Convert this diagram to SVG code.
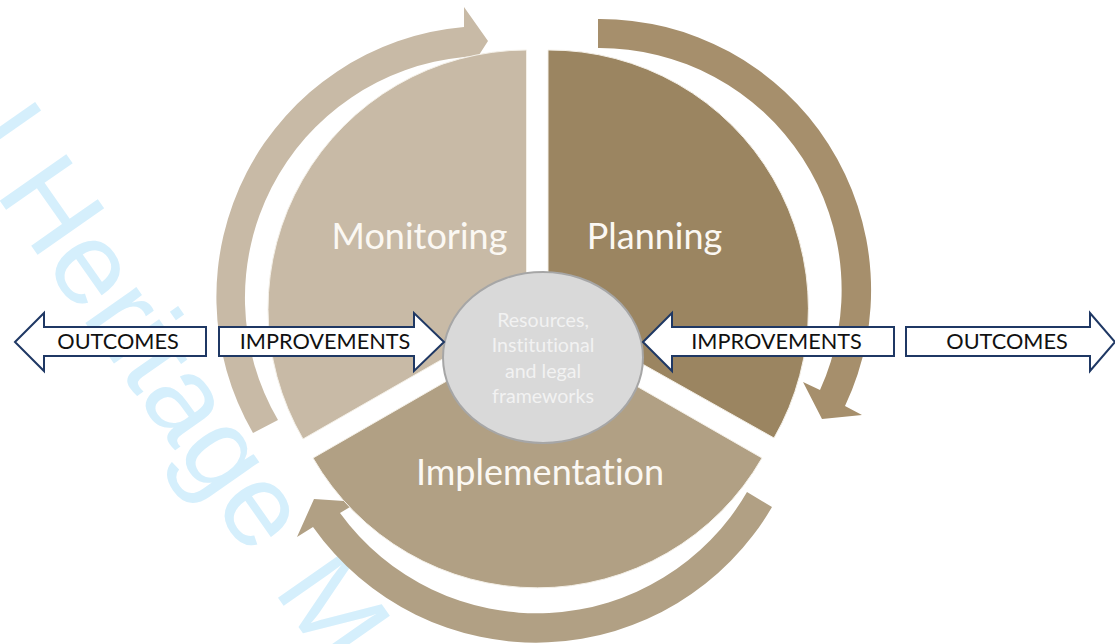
<svg xmlns="http://www.w3.org/2000/svg" width="1115" height="644" viewBox="0 0 1115 644">
<style>
text{font-variant-ligatures:none}
.wm{font-family:"Liberation Sans",Arial,sans-serif;font-size:118px;fill:#d5effc}
.wedge{stroke:#f4f0e8;stroke-width:1}
.big{font-family:Lato,"Open Sans",sans-serif;font-size:36px;fill:#fbf8f3;text-anchor:middle}
.core{font-family:Lato,"Open Sans",sans-serif;font-size:19.600px;fill:#f2f2f2;text-anchor:middle}
.block{fill:#fff;stroke:#1f3864;stroke-width:2}
.lbl{font-family:Lato,"Open Sans",sans-serif;font-size:21.700px;fill:#111;text-anchor:middle}
</style>
<rect width="1115" height="644" fill="#fff"/>
<text class="wm" transform="translate(-39.5 144.4) rotate(55)">l Heritage <tspan dx="6">M</tspan></text>
<g id="cycle-connectors">
<path fill="#c8baa6" d="M253 433A271 271 0 0 1 464 27L464 7L488 41L479 55L464 57A242 242 0 0 0 278 420Z"/>
<path fill="#a68f6c" d="M598 19A271 271 0 0 1 845 406L862 415L822 419L803 382L820 390A242 242 0 0 0 598 48Z"/>
<path fill="#b1a084" d="M772 507A273 273 0 0 1 313 527L297 537L314 499L344 501L350 507L340 513A243 243 0 0 0 747 492Z"/>
</g>
<g id="monitoring">
<path class="wedge" fill="#c8baa6" d="M526.500 50A259 259 0 0 0 303 439L526.500 311Z"/>
<text class="big" x="419.500" y="249">Monitoring</text>
</g>
<g id="planning">
<path class="wedge" fill="#9b8561" d="M548 50A259 259 0 0 1 774 438L548 311Z"/>
<text class="big" x="654.500" y="249">Planning</text>
</g>
<g id="implementation">
<path class="wedge" fill="#b1a084" d="M313 458L537 329L762 458A259 259 0 0 1 313 458Z"/>
<text class="big" x="540" y="485">Implementation</text>
</g>
<g id="core">
<ellipse cx="543" cy="357.500" rx="100" ry="85.500" fill="#d9d9d9" stroke="#a6a6a6" stroke-width="2"/>
<text class="core" x="543" y="327">Resources,</text>
<text class="core" x="543" y="352">Institutional</text>
<text class="core" x="543" y="378">and legal</text>
<text class="core" x="543" y="403">frameworks</text>
</g>
<g id="outcomes-left">
<path class="block" d="M15 342L44 313V327H206V356H44V371Z"/>
<text class="lbl" x="118" y="349">OUTCOMES</text>
</g>
<g id="improvements-left">
<path class="block" d="M219 327H414V313L444 342L414 371V356H219Z"/>
<text class="lbl" x="325" y="349">IMPROVEMENTS</text>
</g>
<g id="improvements-right">
<path class="block" d="M643 342L672 313V327H894V356H672V371Z"/>
<text class="lbl" x="776.500" y="349">IMPROVEMENTS</text>
</g>
<g id="outcomes-right">
<path class="block" d="M906 327H1090V313L1115 342L1090 371V356H906Z"/>
<text class="lbl" x="1007" y="349">OUTCOMES</text>
</g>
</svg>
